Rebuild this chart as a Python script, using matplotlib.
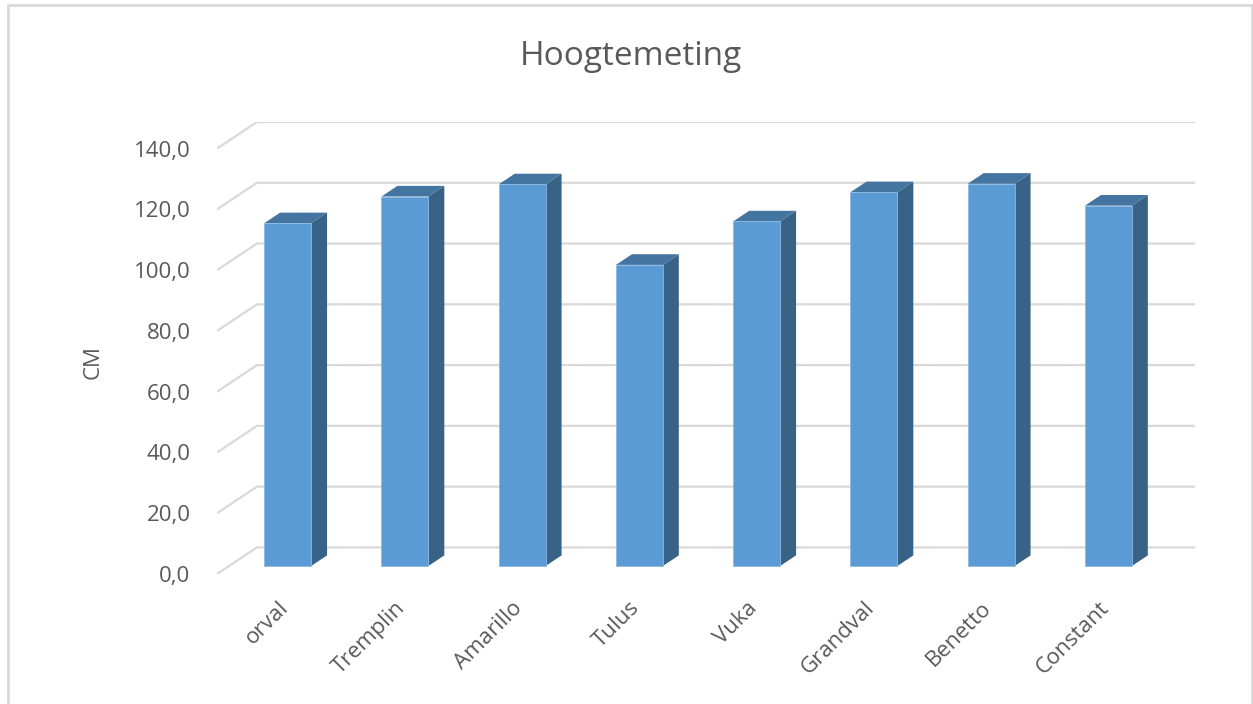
import numpy as np
import matplotlib.pyplot as plt
import matplotlib.transforms as mtransforms
from matplotlib.patches import Polygon, Rectangle

# Hoogtemeting - 3D-achtige kolomgrafiek (Excel-stijl), getekend in 2D
rassen = ['orval', 'Tremplin', 'Amarillo', 'Tulus', 'Vuka', 'Grandval', 'Benetto', 'Constant']
hoogte = [112.8, 121.6, 125.6, 99.1, 113.4, 123.0, 125.8, 118.6]
yticks = [0, 20, 40, 60, 80, 100, 120, 140]
ytick_labels = ['0,0', '20,0', '40,0', '60,0', '80,0', '100,0', '120,0', '140,0']

plt.rcParams['font.family'] = ['Open Sans', 'DejaVu Sans']
tekst = '#595959'
grid = '#D9D9D9'
voor = '#5B9BD5'
zij = '#386286'
boven = '#4474A0'

# schuine projectie: verschuiving van voorvlak naar achterwand (data-eenheden)
DX, DY = 0.341, 8.75
f1, f2 = 0.3, 0.7   # diepte van voor- en achterkant van de kolommen
w = 0.40

fig = plt.figure(figsize=(12.53, 7.04), dpi=100)
W, H = 1253, 704
ax = fig.add_axes([217 / W, 1 - 574 / H, (1195 - 217) / W, (574 - 122) / H])
ax.set_xlim(-0.5, 7.5 + DX)
ax.set_ylim(0, 140 + DY)
for s in ax.spines.values():
    s.set_visible(False)

# rasterlijnen: schuin stukje links + lijn op de achterwand
for v in yticks:
    ax.plot([-0.5, -0.5 + DX, 7.5 + DX], [v, v + DY, v + DY], color=grid, lw=1.6,
            zorder=1, solid_capstyle='butt')

x = np.arange(len(rassen))
xc = x + f1 * DX
d_x = (f2 - f1) * DX
d_y = (f2 - f1) * DY
ax.bar(xc, hoogte, width=w, bottom=f1 * DY, color=voor, zorder=3,
       edgecolor='#8DB8E2', linewidth=0.6)
for xi, h in zip(xc, hoogte):
    l, r = xi - w / 2, xi + w / 2
    top = f1 * DY + h
    ax.add_patch(Polygon([(r, f1 * DY), (r + d_x, f1 * DY + d_y), (r + d_x, top + d_y), (r, top)],
                         closed=True, facecolor=zij, edgecolor='none', zorder=2.9))
    ax.add_patch(Polygon([(l, top), (l + d_x, top + d_y), (r + d_x, top + d_y), (r, top)],
                         closed=True, facecolor=boven, edgecolor='none', zorder=2.9))

ax.set_yticks(yticks)
ax.set_yticklabels(ytick_labels, fontsize=16, color=tekst)
ax.set_xticks(xc)
ax.set_xticklabels(rassen, fontsize=16, color=tekst, rotation=45, ha='right',
                   rotation_mode='anchor')
ax.tick_params(axis='y', length=0, pad=19)
ax.tick_params(axis='x', length=0, pad=17)
# labels iets naar links schuiven zoals in Excel
verschuif = mtransforms.ScaledTranslation(-0.1, 0, fig.dpi_scale_trans)
for lbl in ax.get_xticklabels():
    lbl.set_transform(lbl.get_transform() + verschuif)

fig.text(93 / W, 1 - 362 / H, 'CM', rotation=90, fontsize=16, color=tekst,
         ha='center', va='center')
fig.text(631 / W, 1 - 65 / H, 'Hoogtemeting', fontsize=24, color=tekst,
         ha='center', va='baseline')

# kader rond de grafiek
fig.patches.append(Rectangle((8 / W, -0.01), (1252 - 8) / W, 1 - 5 / H + 0.01,
                             transform=fig.transFigure, fill=False,
                             edgecolor=grid, lw=2))

fig.savefig('out.png', dpi=100)
